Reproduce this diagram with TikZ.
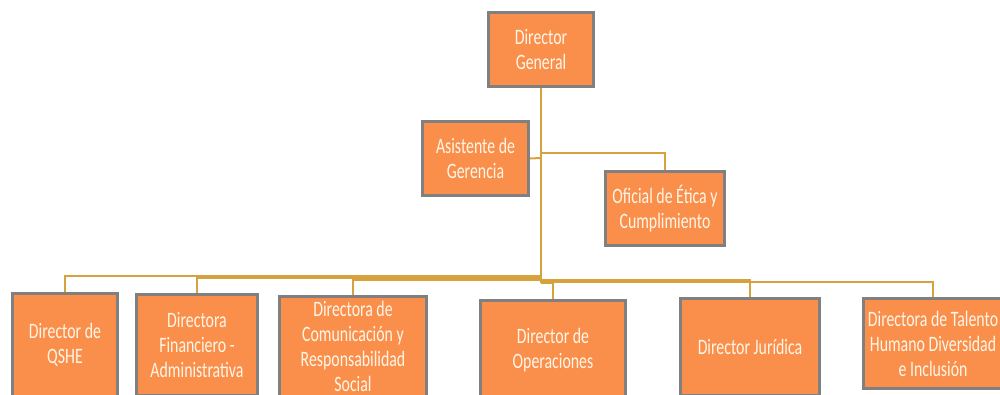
\documentclass[tikz,border=0pt]{standalone}
\usepackage{fontspec}
\newfontfamily\cf[FakeStretch=0.72]{Carlito}
\definecolor{boxfill}{RGB}{250,143,76}
\definecolor{boxgray}{RGB}{128,128,128}
\definecolor{boxtext}{RGB}{255,246,232}
\definecolor{linkc}{RGB}{214,162,62}
\begin{document}
\begin{tikzpicture}[x=1pt,y=-1pt,
  box/.style={draw=boxgray, line width=3pt, fill=boxfill, text=boxtext,
    font=\cf\fontsize{22}{25}\selectfont, align=center, inner sep=0pt},
  link/.style={draw=linkc, line width=2pt}]
\useasboundingbox (0,0) rectangle (1000,394);
\begin{scope}
\clip (0,0) rectangle (1000,394);
% connectors first
\coordinate (ja) at (541,158);
\coordinate (jo) at (541,153);
\coordinate (j1) at (541,276);
\coordinate (j2) at (541,277.5);
\coordinate (j3) at (541,280);
\coordinate (j4) at (541,283);
\coordinate (j5) at (541,280);
\coordinate (j6) at (541,281.5);
\node[box, minimum width=105, minimum height=74] (dg) at (541,49.5) {Director\\General};
\node[box, minimum width=106, minimum height=74] (asis) at (475.5,158.5) {Asistente de\\Gerencia};
\node[box, minimum width=119, minimum height=74] (ofi) at (665,208.5) {Oficial de Ética y\\Cumplimiento};
\node[box, minimum width=105, minimum height=103] (qshe) at (65,345) {Director de\\QSHE};
\node[box, minimum width=121, minimum height=101] (fin) at (197,345) {Directora\\Financiero -\\Administrativa};
\node[box, minimum width=147, minimum height=100] (com) at (353,346) {Directora de\\Comunicación y\\Responsabilidad\\Social};
\node[box, minimum width=145, minimum height=99] (ops) at (553,350) {Director de\\Operaciones};
\node[box, minimum width=139, minimum height=97] (jur) at (750,347) {Director Jurídica};
\node[box, minimum width=139, minimum height=90] (tal) at (933,343.5) {Directora de Talento\\Humano Diversidad\\e Inclusión};
\draw[link] (dg.south) -- (j4);
\draw[link] (asis.east) -- (ja);
\draw[link] (jo) -| (ofi.north);
\draw[link] (j1) -| (qshe.north);
\draw[link] (j2) -| (fin.north);
\draw[link] (j3) -| (com.north);
\draw[link] (j4) -| (ops.north);
\draw[link] (j5) -| (jur.north);
\draw[link] (j6) -| (tal.north);
\end{scope}
\end{tikzpicture}
\end{document}
